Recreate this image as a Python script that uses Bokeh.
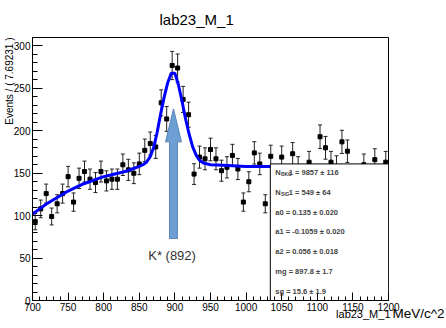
import numpy as np
from bokeh.plotting import figure
from bokeh.models import Range1d, SingleIntervalTicker, Whisker, TeeHead, ColumnDataSource, Label, Title
from bokeh.embed import file_html
from bokeh.resources import INLINE

# ---------------- data ----------------
x_lo, x_hi, n_bins = 700.0, 1200.0, 65
counts = [93, 108, 126, 99, 114, 126, 146, 116, 144, 152,
          143, 139, 152, 141, 143, 143, 160, 154, 150, 161,
          177, 185, 181, 233, 214, 277, 274, 237, 219, 149,
          169, 167, 178, 167, 153, 157, 171, 155, 116, 140,
          174, 161, 114, 170, 146, 169, 145, 173, 157, 144,
          163, 147, 193, 180, 163, 158, 187, 176, 146, 142,
          160, 145, 166, 148, 163]

fit_x = [700, 710, 720, 730, 740, 750, 760, 770, 780, 790, 800, 810, 820, 830, 840,
         850, 855, 860, 865, 870, 875, 880, 885, 890, 895, 900, 905, 910, 915, 920,
         925, 930, 935, 940, 950, 975, 1000, 1050, 1100, 1200]
fit_y = [102, 108, 114, 119, 124, 129, 133, 137, 140, 143, 146, 148, 150, 152, 155,
         158, 160, 163, 169, 180, 198, 220, 240, 257, 268, 268, 254, 235, 214, 196,
         181, 171, 165, 162, 160, 159, 158, 158, 157, 156]

par_names = ["N_BKG1", "N_SIG1", "a0", "a1", "a2", "mg", "sg"]
par_values = ["9857", "549", "0.135", "-0.1059", "0.056", "897.8", "15.6"]
par_errors = ["116", "64", "0.020", "0.020", "0.018", "1.7", "1.9"]

title_text = "lab23_M_1"
y_title = "Events / ( 7.69231 )"
x_title = "lab23_M_1"
x_unit = "MeV/c^2"
peak_label = "K* (892)"

# annotation geometry (not data)
box_left, box_top = 1034, 161
arrow_x, arrow_tip, arrow_base, arrow_tail = 898, 226, 187, 73
arrow_head_hw, arrow_shaft_hw = 11.2, 5.6

FONT = "Liberation Sans"

# ---------------- derived ----------------
counts_a = np.array(counts, dtype=float)
width = (x_hi - x_lo) / n_bins
centers = x_lo + width * (np.arange(n_bins) + 0.5)
err = np.sqrt(counts_a)
src = ColumnDataSource(dict(x=centers, y=counts_a, upper=counts_a + err, lower=counts_a - err))

p = figure(width=446, height=328, x_range=Range1d(x_lo, x_hi), y_range=Range1d(0, 310),
           output_backend="svg", toolbar_location=None,
           min_border_left=32, min_border_right=58, min_border_top=37, min_border_bottom=28)
p.title.text = title_text
p.title.align = "left"
p.title.offset = 127
p.title.vertical_align = "top"
p.title.standoff = 16
p.title.text_font = FONT
p.title.text_font_style = "normal"
p.title.text_font_size = "15px"
p.title.text_color = "black"

p.xgrid.visible = False
p.ygrid.visible = False
p.outline_line_color = "black"
p.outline_line_width = 1
p.background_fill_color = "white"
p.border_fill_color = "white"

for ax, tin, mtin in ((p.xaxis, 8, 4), (p.yaxis, 10, 5)):
    ax.ticker = SingleIntervalTicker(interval=50, num_minor_ticks=5)
    ax.major_tick_in = tin
    ax.major_tick_out = 0
    ax.minor_tick_in = mtin
    ax.minor_tick_out = 0
    ax.axis_line_color = "black"
    ax.major_tick_line_color = "black"
    ax.minor_tick_line_color = "black"
    ax.major_label_text_font = FONT
    ax.major_label_text_font_size = "10px"
    ax.major_label_text_color = "black"
    ax.major_label_standoff = 2

# axis titles as side-panel titles (placed like ROOT's)
yt = Title(text=y_title, align="right", offset=0, standoff=-9, text_font=FONT,
           text_font_style="normal", text_font_size="10px", text_color="black")
p.add_layout(yt, "left")
xt = Title(text=x_title, align="right", offset=-2, standoff=-12, vertical_align="top", text_font=FONT,
           text_font_style="normal", text_font_size="11px", text_color="black")
p.add_layout(xt, "below")
xu = Title(text=x_unit, align="left", offset=360, standoff=-20, vertical_align="top", text_font=FONT,
           text_font_style="normal", text_font_size="13.5px", text_color="black")
p.add_layout(xu, "below")

# error bars
w = Whisker(source=src, base="x", upper="upper", lower="lower", line_color="#222222", line_width=1,
            upper_head=TeeHead(size=4, line_color="#222222", line_width=1),
            lower_head=TeeHead(size=4, line_color="#222222", line_width=1))
p.add_layout(w)
p.scatter("x", "y", source=src, marker="square", size=4, color="black")

# fit curve
p.line(fit_x, fit_y, line_color="#0000ff", line_width=3)

# arrow
ax_ = [arrow_x - arrow_shaft_hw, arrow_x - arrow_shaft_hw, arrow_x - arrow_head_hw, arrow_x,
       arrow_x + arrow_head_hw, arrow_x + arrow_shaft_hw, arrow_x + arrow_shaft_hw]
ay_ = [arrow_tail, arrow_base, arrow_base, arrow_tip, arrow_base, arrow_base, arrow_tail]
p.patch(ax_, ay_, fill_color="#6d9ed4", line_color="#5b86b8", line_width=1)
p.add_layout(Label(x=arrow_x - 2, y=53, text=peak_label, text_align="center", text_baseline="middle",
                   text_font=FONT, text_font_size="13px", text_color="#333333"))

# stats box
p.quad(left=[box_left], right=[x_hi], bottom=[0], top=[box_top],
       fill_color="white", line_color="black", line_width=1)
tx = box_left + 7
for i, (nm, v, e) in enumerate(zip(par_names, par_values, par_errors)):
    yy = box_top - 10 - 23.4 * i
    if nm.startswith("N_"):
        base, sub = nm[0], nm[2:-1]
        rest = nm[-1] + " = " + v + "  \u00b1 " + e
        p.add_layout(Label(x=tx, y=yy, text=base, text_baseline="middle",
                           text_font=FONT, text_font_style="bold", text_font_size="7.5px"))
        p.add_layout(Label(x=tx, y=yy, x_offset=5.6, y_offset=-1.5, text=sub, text_baseline="middle",
                           text_font=FONT, text_font_style="bold", text_font_size="5px"))
        p.add_layout(Label(x=tx, y=yy, x_offset=13.5, text=rest, text_baseline="middle",
                           text_font=FONT, text_font_style="bold", text_font_size="7.5px"))
    else:
        p.add_layout(Label(x=tx, y=yy, text=nm + " = " + v + "  \u00b1 " + e, text_baseline="middle",
                           text_font=FONT, text_font_style="bold", text_font_size="7.5px"))

open("out.html", "w").write(file_html(p, INLINE))
